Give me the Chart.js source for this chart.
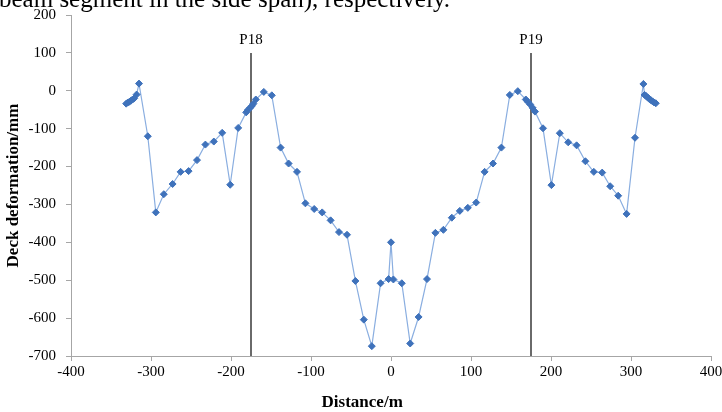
<!DOCTYPE html>
<html>
<head>
<meta charset="utf-8">
<script src="https://cdn.jsdelivr.net/npm/chart.js@4.4.1/dist/chart.umd.min.js"></script>
<style>
  html, body { margin: 0; padding: 0; background: #fff; }
  #wrap { position: relative; width: 722px; height: 412px; overflow: hidden; }
  #cut { position: absolute; left: -1px; top: -14px; font: 25px "Liberation Serif", serif; line-height: 25px; color: #000; white-space: nowrap; }
</style>
</head>
<body>
<div id="wrap">
  <canvas id="chart" width="722" height="412"></canvas>
  <div id="cut">beam segment in the side span), respectively.</div>
</div>
<script>
// deck deformation along the bridge (m, mm)
const distance = [
  -331, -329, -327, -325, -323, -321, -318, -315, -304, -294, -284, -273, -263, -253, -242.5, -232, -221.5, -211, -201, -191,
  -181, -179, -176, -174, -172, -169, -159, -149, -138, -128, -117.5, -107, -96, -86, -75.5, -65, -55, -44.5, -34, -24, -13, -3,
  0, 3, 13.5, 24, 34.5, 45, 55.5, 65.5, 76, 86, 96, 106.5, 117, 127.5, 138, 148.5, 158.5,
  168.5, 171, 174, 177, 180, 190, 200.5, 211, 221.5, 232, 243, 253.5, 264, 274, 284, 294.5, 305, 315.5, 317, 319, 321, 323, 325, 327, 329, 331
];
const deformation = [
  -34, -31, -29, -26, -23, -20, -10, 19, -120, -321, -273, -246, -214, -212, -183, -142, -134, -111, -248, -98,
  -57, -51, -45, -40, -34, -23, -3, -12, -150, -192, -214, -297, -312, -321, -342, -373, -380, -502, -604, -674, -508, -497,
  -400, -498, -508, -667, -597, -497, -375, -367, -335, -317, -309, -295, -214, -192, -150, -11, -1,
  -23, -29, -36, -45, -55, -99, -249, -112, -136, -144, -186, -214, -216, -252, -277, -325, -124, 18, -11, -14, -18, -22, -25, -28, -31, -33
];
const piers = ["P18", "P19"];
const pierX = [-175, 175];
const pierTop = 100;
const pierLabelY = 134;
const xTitle = "Distance/m";
const yTitle = "Deck deformation/mm";

const serif = "'Liberation Serif', 'Times New Roman', serif";

const points = distance.map((x, i) => ({ x: x, y: deformation[i] }));

const pierSets = piers.map((name, i) => ({
  label: name,
  data: [{ x: pierX[i], y: pierTop }, { x: pierX[i], y: -700 }],
  showLine: true,
  borderColor: "#3a3a3a",
  borderWidth: 1.5,
  pointRadius: 0,
  order: 2
}));

// pier labels and axis titles (Excel puts the x title a bit left of centre)
const extraText = {
  id: "extraText",
  afterDraw(chart) {
    const { ctx, scales, chartArea } = chart;
    ctx.save();
    ctx.fillStyle = "#000";
    ctx.textAlign = "center";
    ctx.textBaseline = "middle";
    ctx.font = "15px " + serif;
    piers.forEach((name, i) => {
      ctx.fillText(name, scales.x.getPixelForValue(pierX[i]), scales.y.getPixelForValue(pierLabelY));
    });
    ctx.font = "bold 17px " + serif;
    ctx.fillText(xTitle, chartArea.left + chartArea.width * 0.455, 403);
    ctx.translate(14, (chartArea.top + chartArea.bottom) / 2);
    ctx.rotate(-Math.PI / 2);
    ctx.fillText(yTitle, 0, 0);
    ctx.restore();
  }
};

new Chart(document.getElementById("chart"), {
  type: "scatter",
  data: {
    datasets: [
      {
        label: "Deformation",
        data: points,
        showLine: true,
        borderColor: "#8aaee0",
        borderWidth: 1.2,
        pointStyle: "rectRot",
        pointRadius: 3.5,
        pointBackgroundColor: "#3f72bb",
        pointBorderColor: "#3f72bb",
        pointBorderWidth: 1,
        order: 1
      },
      ...pierSets
    ]
  },
  options: {
    responsive: false,
    animation: false,
    layout: { padding: { top: 15, right: 11, left: 0, bottom: 0 } },
    plugins: { legend: { display: false }, tooltip: { enabled: false } },
    scales: {
      x: {
        type: "linear",
        min: -400, max: 400,
        ticks: { stepSize: 100, color: "#000", padding: 2, font: { family: serif, size: 15 } },
        grid: { drawOnChartArea: false, color: "#a6a6a6", tickLength: 5 },
        border: { color: "#a6a6a6", width: 1 },
        afterFit(scale) { scale.height = 56; scale.paddingLeft = 0; scale.paddingRight = 0; }
      },
      y: {
        min: -700, max: 200,
        ticks: { stepSize: 100, color: "#000", padding: 10, font: { family: serif, size: 15 } },
        grid: { drawOnChartArea: false, color: "#a6a6a6", tickLength: 5 },
        border: { color: "#a6a6a6", width: 1 },
        afterFit(scale) { scale.width = 71; scale.paddingTop = 0; scale.paddingBottom = 0; }
      }
    }
  },
  plugins: [extraText]
});
</script>
</body>
</html>
